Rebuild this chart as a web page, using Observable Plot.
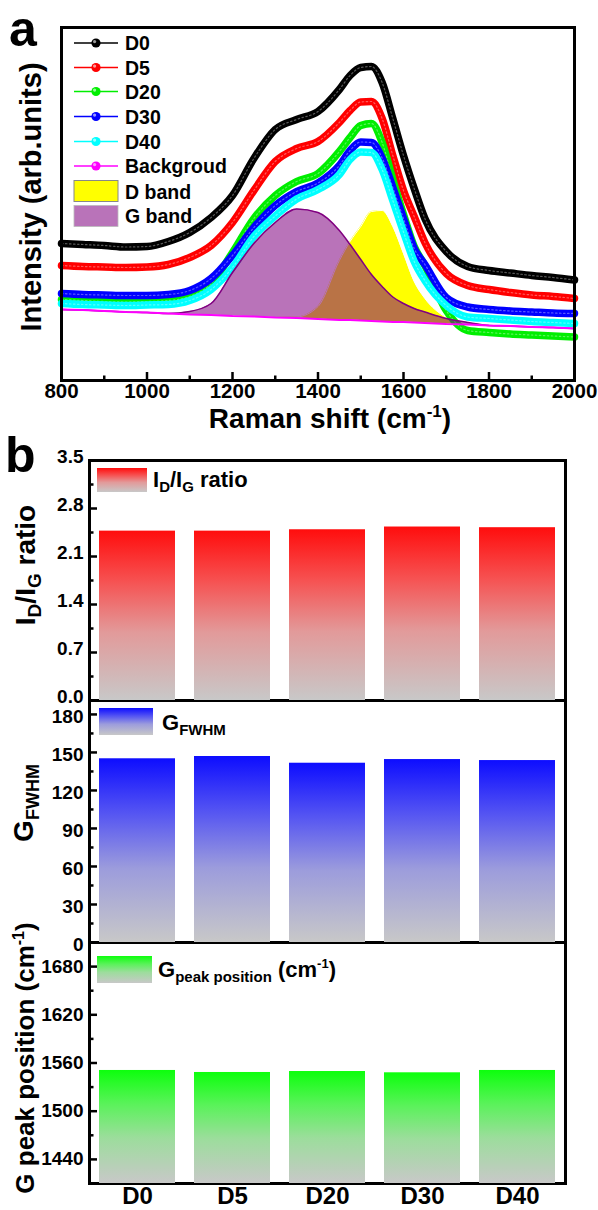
<!DOCTYPE html>
<html>
<head>
<meta charset="utf-8">
<script src="https://cdn.jsdelivr.net/npm/d3@7"></script>
<script src="https://cdn.jsdelivr.net/npm/@observablehq/plot@0.6"></script>
<style>
html,body{margin:0;padding:0;background:#fff;}
#root{position:relative;width:598px;height:1210px;overflow:hidden;background:#fff;}
#root svg{position:absolute;left:0;}
</style>
</head>
<body>
<div id="root"></div>
<script>
// ================= DATA =================
// Panel a : Raman spectra (intensity in arbitrary units)
const wavenumber = [800,850,900,950,1000,1050,1100,1150,1200,1250,1300,1350,1400,1450,1475,1500,1525,1550,1575,1600,1625,1650,1700,1750,1800,1850,1900,1950,2000];
const D0  = [137,136,135,133.5,134,139,148,163,185,222,251,261,269,291,305,313,314,298,262,225,192,162,129,114,110,107.5,105,103,100.5];
const D5  = [115,114,113.5,113,113.5,116,123,135,158,190,219,232,239,258,270,278.5,279,262,225,190,164,138,107,95,91,88,85.5,84,82];
const D20 = [81,80,79,78.5,79,80,84,97,128,162,185,199,207,229,243,255,257,238,201,166,134,115,70,50,48,46.5,45.5,44.5,43.5];
const D30 = [87,86,85.5,85,85,86,90,102,125,153,175,189,197.5,215,230,238.5,238,222.5,193,162,132,116,83,73.5,71,69.5,68.5,67.5,67];
const D40 = [77,76,75.5,75,75.5,76,80,91,113,144,164.5,181.5,191,206,221,228.5,228,211,180,148.5,119,100,75,63.5,62,60.5,59,58,57];
const background = [71,70.5,69.5,68.5,68,67,66,65.5,64.5,64,63,62.5,61.5,60.5,60.5,60,59.5,59,58.5,58.5,58,57.5,56.5,56,55,54.5,53.5,53,52];
const dBand = [71,70.5,69.5,68.5,68,67,66,65.5,64.5,64,63,63.5,74,120,139,154,169,170,154,127,99,82,63,56.5,55,54.5,53.5,53,52];
const gBand = [71,70.5,69.5,68.5,68,67,69,77,108,137,158,171.5,168,150,136,121,106,94,83.5,77,72,68.5,62,58,55,54.5,53.5,53,52];
const spectraTicks = [800,1000,1200,1400,1600,1800,2000];
const spectraMinorTicks = [900,1100,1300,1500,1700,1900];

// Panel b : bar values
const samples = ["D0","D5","D20","D30","D40"];
const idigRatio = [2.47,2.47,2.49,2.53,2.52];
const gFwhm = [145.0,146.8,141.5,144.4,143.6];
const gPeak = [1550.7,1548.2,1549.4,1547.8,1550.7];
const ratioDomain = [0,3.5];
const ratioTicks = [0,0.7,1.4,2.1,2.8,3.5];
const ratioMinor = [0.35,1.05,1.75,2.45,3.15];
const fwhmDomain = [0,191];
const fwhmTicks = [0,30,60,90,120,150,180];
const fwhmMinor = [15,45,75,105,135,165];
const peakDomain = [1410,1710];
const peakTicks = [1440,1500,1560,1620,1680];
const peakMinor = [1470,1530,1590,1650];

// ================= DRAWING =================
const FONT = "'Liberation Sans', Arial, Helvetica, sans-serif";
const root = d3.select("#root");

const seriesDefs = [
  {name:"D0", color:"#000000", values:D0},
  {name:"D5", color:"#ff0000", values:D5},
  {name:"D20", color:"#00ee00", values:D20},
  {name:"D30", color:"#0000ff", values:D30},
  {name:"D40", color:"#00ffff", values:D40}
];
const bandRows = wavenumber.map((w,i)=>({w, base:background[i], D:dBand[i], G:gBand[i]}));
const bgRows = wavenumber.map((w,i)=>({w, I:background[i]}));

const curveMarks = seriesDefs.flatMap(s => {
  const rows = wavenumber.map((w,i)=>({w, I:s.values[i]}));
  return [
    Plot.lineY(rows,{x:"w", y:"I", stroke:s.color, strokeWidth:7.5, curve:"monotone-x", strokeLinejoin:"round"}),
    Plot.lineY(rows,{x:"w", y:"I", stroke:"#ffffff", strokeOpacity:0.35, strokeWidth:1.2, strokeDasharray:"1.5,2.5", curve:"monotone-x"})
  ];
});

const baseStyle = {fontFamily:FONT, fontWeight:"bold", background:"transparent", overflow:"visible", color:"#000"};

const plotA = Plot.plot({
  width:598, height:440, marginTop:27, marginRight:24, marginBottom:60, marginLeft:61,
  x:{domain:[800,2000]},
  y:{domain:[0,353], axis:null},
  style:{...baseStyle, fontSize:"20.5px"},
  marks:[
    Plot.areaY(bandRows,{x:"w", y1:"base", y2:"D", fill:"#ffff00", curve:"monotone-x"}),
    Plot.lineY(bandRows,{x:"w", y:"D", stroke:"#ffffff", strokeWidth:1, curve:"monotone-x"}),
    ...curveMarks,
    Plot.areaY(bandRows,{x:"w", y1:"base", y2:"G", fill:"#800080", fillOpacity:0.55, curve:"monotone-x"}),
    Plot.lineY(bandRows,{x:"w", y:"G", stroke:"#800080", strokeWidth:1.5, curve:"monotone-x"}),
    Plot.lineY(bgRows,{x:"w", y:"I", stroke:"#ff00ff", strokeWidth:1.8}),
    Plot.frame({stroke:"#000", strokeWidth:3}),
    Plot.axisX(spectraTicks,{tickSize:-8, tickPadding:11, tickFormat:d=>String(d), label:null, strokeWidth:2.5}),
    Plot.axisX(spectraMinorTicks,{tickSize:-4.5, tickFormat:()=>"", label:null, strokeWidth:2.5})
  ]
});

function barPanel(cfg){
  const rows = samples.map((s,i)=>({s, v:cfg.values[i]}));
  return Plot.plot({
    width:598, height:5 + cfg.frameH + cfg.marginBottom,
    marginTop:5, marginRight:33, marginBottom:cfg.marginBottom, marginLeft:89,
    x:{domain:samples, paddingInner:0.2, paddingOuter:0.1, axis: cfg.xLabels ? undefined : null},
    y:{domain:cfg.domain, axis:null},
    style:{...baseStyle, fontSize:"19px"},
    marks:[
      Plot.frame({stroke:"#000", strokeWidth:3}),
      Plot.axisY(cfg.ticks,{tickSize:0, tickPadding:6, tickFormat:cfg.fmt, label:null, dy:cfg.labelDy}),
      Plot.axisY(cfg.ticks,{tickSize:-8, tickFormat:()=>"", label:null, strokeWidth:2.5}),
      Plot.axisY(cfg.minor,{tickSize:-4.5, tickFormat:()=>"", label:null, strokeWidth:2.5}),
      Plot.barY(rows,{x:"s", y1:cfg.domain[0], y2:"v", fill:`url(#${cfg.grad})`}),
      cfg.xLabels ? Plot.axisX({tickSize:0, tickPadding:3, fontSize:24, label:null}) : null
    ]
  });
}

const plotB3 = barPanel({values:gPeak, domain:peakDomain, ticks:peakTicks, minor:peakMinor, fmt:d=>String(d), grad:"gradG", frameH:241, marginBottom:27, xLabels:true, labelDy:0});
const plotB2 = barPanel({values:gFwhm, domain:fwhmDomain, ticks:fwhmTicks, minor:fwhmMinor, fmt:d=>String(d), grad:"gradB", frameH:242, marginBottom:5, labelDy:2});
const plotB1 = barPanel({values:idigRatio, domain:ratioDomain, ticks:ratioTicks, minor:ratioMinor, fmt:d3.format(".1f"), grad:"gradR", frameH:240, marginBottom:5, labelDy:-4});

function place(node, top){ node.style.position="absolute"; node.style.left="0px"; node.style.top=top+"px"; root.node().appendChild(node); }
place(plotA, 0);
place(plotB3, 937);
place(plotB2, 695);
place(plotB1, 455);

// ---- overlay: gradients, titles, legends ----
const ov = root.append("svg").attr("width",598).attr("height",1210)
  .style("top","0px").style("overflow","visible")
  .attr("font-family",FONT).attr("font-weight","bold");
const defs = ov.append("defs");
function grad(id, stops){
  const g = defs.append("linearGradient").attr("id",id).attr("x1",0).attr("y1",0).attr("x2",0).attr("y2",1);
  stops.forEach(([o,c])=>g.append("stop").attr("offset",o).attr("stop-color",c));
}
grad("gradR",[[0,"#ff0d0d"],[0.3,"#f65252"],[0.6,"#e29a9a"],[1,"#c8c8c8"]]);
grad("gradB",[[0,"#0d0dff"],[0.3,"#5555f2"],[0.6,"#9c9cdc"],[1,"#c8c8c8"]]);
grad("gradG",[[0,"#0dff0d"],[0.3,"#5af25a"],[0.6,"#9cdd9c"],[1,"#c8c8c8"]]);

function txt(x,y,size,html,opts={}){
  const t = ov.append("text").attr("x",x).attr("y",y).attr("font-size",size).attr("fill","#000");
  if(opts.anchor) t.attr("text-anchor",opts.anchor);
  if(opts.rotate) t.attr("x",0).attr("y",0).attr("transform",`translate(${x},${y}) rotate(-90)`);
  t.html(html);
  return t;
}

// panel letters
txt(9,46,50,"a");
txt(5,472,50,"b");

// panel a titles
txt(41,197,29,"Intensity (arb.units)",{anchor:"middle",rotate:true});
txt(330,428,28,"Raman shift (cm<tspan dy='-11' font-size='17'>-1</tspan><tspan dy='11'>)</tspan>",{anchor:"middle"});

// panel a legend
const legendA = [...seriesDefs.map(s=>({name:s.name,color:s.color})), {name:"Backgroud", color:"#ff00ff"}];
const rowY = [43,67.5,91.5,116.5,141.5,166];
legendA.forEach((d,i)=>{
  const g = ov.append("g").attr("transform",`translate(0,${rowY[i]})`);
  g.append("line").attr("x1",74).attr("x2",118).attr("y1",0).attr("y2",0).attr("stroke",d.color).attr("stroke-width",1.6);
  g.append("circle").attr("cx",96).attr("cy",0).attr("r",4.6).attr("fill",d.color);
  g.append("circle").attr("cx",94.6).attr("cy",-1.4).attr("r",1.6).attr("fill","#fff").attr("opacity",0.6);
  g.append("text").attr("x",125).attr("y",7).attr("font-size",19.5).text(d.name);
});
ov.append("rect").attr("x",74).attr("y",180.5).attr("width",44).attr("height",21).attr("fill","#ffff00").attr("stroke","#888").attr("stroke-width",1);
txt(125,198.7,19.5,"D band");
ov.append("rect").attr("x",74).attr("y",205.5).attr("width",44).attr("height",21).attr("fill","#800080").attr("fill-opacity",0.55).attr("stroke","#bbb").attr("stroke-width",0.8);
txt(125,223,19.5,"G band");

// panel b titles
txt(35,565,28,"I<tspan dy='6' font-size='19'>D</tspan><tspan dy='-6'>/I</tspan><tspan dy='6' font-size='19'>G</tspan><tspan dy='-6'> ratio</tspan>",{anchor:"middle",rotate:true});
txt(33,803,28,"G<tspan dy='6' font-size='18'>FWHM</tspan>",{anchor:"middle",rotate:true});
txt(34,1058,26,"G peak position (cm<tspan dy='-10' font-size='16'>-1</tspan><tspan dy='10'>)</tspan>",{anchor:"middle",rotate:true});

// panel b legends
ov.append("rect").attr("x",97).attr("y",468).attr("width",50).attr("height",24).attr("fill","url(#gradR)");
txt(153,487,22,"I<tspan dy='5' font-size='15'>D</tspan><tspan dy='-5'>/I</tspan><tspan dy='5' font-size='15'>G</tspan><tspan dy='-5'> ratio</tspan>");
ov.append("rect").attr("x",99).attr("y",708).attr("width",54).attr("height",27).attr("fill","url(#gradB)");
txt(162,730,22,"G<tspan dy='5' font-size='15'>FWHM</tspan>");
ov.append("rect").attr("x",97).attr("y",956).attr("width",55).attr("height",27).attr("fill","url(#gradG)");
txt(158,977,22,"G<tspan dy='5' font-size='15'>peak position</tspan><tspan dy='-5'> (cm</tspan><tspan dy='-9' font-size='13'>-1</tspan><tspan dy='9'>)</tspan>");
</script>
</body>
</html>
